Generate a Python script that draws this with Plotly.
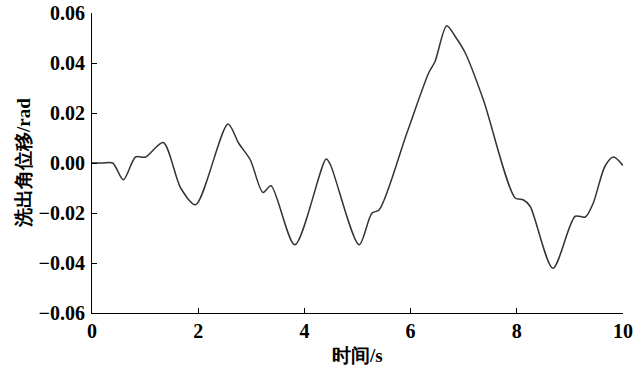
import plotly.graph_objects as go

# Washout angular displacement over time
time_s = [0.0, 0.20, 0.39, 0.59, 0.82, 1.01, 1.34, 1.67, 1.95, 2.56, 2.76, 2.98,
          3.22, 3.37, 3.82, 4.41, 4.49, 5.03, 5.27, 5.41, 5.93, 6.34, 6.46, 6.68,
          6.84, 7.03, 7.37, 7.97, 8.12, 8.25, 8.68, 9.10, 9.29, 9.44, 9.66, 9.82, 10.0]
angle_rad = [0.0, 0.0, 0.0, -0.0067, 0.0024, 0.0024, 0.0082, -0.0100, -0.0167, 0.0156,
             0.0080, 0.0013, -0.0118, -0.0091, -0.0327, 0.0016, -0.0007, -0.0327,
             -0.0201, -0.0187, 0.0120, 0.0360, 0.0406, 0.0549, 0.0506, 0.0440, 0.0253,
             -0.0140, -0.0147, -0.0173, -0.0421, -0.0213, -0.0216, -0.0160, -0.0013,
             0.0024, -0.0010]

x_ticks = [0, 2, 4, 6, 8, 10]
y_ticks = [-0.06, -0.04, -0.02, 0.00, 0.02, 0.04, 0.06]
y_tick_text = ["\u22120.06", "\u22120.04", "\u22120.02", "0.00", "0.02", "0.04", "0.06"]

x_title = "时间/s"
y_title = "洗出角位移/rad"

FONT = "Liberation Serif"

fig = go.Figure(go.Scatter(
    x=time_s, y=angle_rad, mode="lines",
    line=dict(color="#333333", width=1.5, shape="spline", smoothing=0.8),
))

axis_common = dict(
    showline=True, linecolor="black", linewidth=1.2,
    ticks="inside", ticklen=5, tickcolor="black", tickwidth=1.2,
    showgrid=False, zeroline=False, automargin=False,
    tickfont=dict(family=FONT, size=20, color="black", weight="bold"),
)

fig.update_layout(
    width=643, height=369,
    margin=dict(l=92, r=20, t=13, b=56),
    paper_bgcolor="white", plot_bgcolor="white",
    showlegend=False,
    font=dict(family=FONT, color="black"),
    xaxis=dict(range=[0, 10], tickvals=x_ticks, ticktext=[str(v) for v in x_ticks],
               **axis_common),
    yaxis=dict(range=[-0.06, 0.06], tickvals=y_ticks, ticktext=y_tick_text,
               ticklabelstandoff=2, **axis_common),
    annotations=[
        dict(text=x_title, xref="paper", yref="paper", x=0.5, y=-0.14,
             xanchor="center", yanchor="middle", showarrow=False,
             font=dict(family=FONT, size=19, color="black", weight="bold")),
        dict(text=y_title, xref="paper", yref="paper", x=-0.13, y=0.5,
             xanchor="center", yanchor="middle", showarrow=False, textangle=-90,
             font=dict(family=FONT, size=19, color="black", weight="bold")),
    ],
)

fig.write_html("out.html")
